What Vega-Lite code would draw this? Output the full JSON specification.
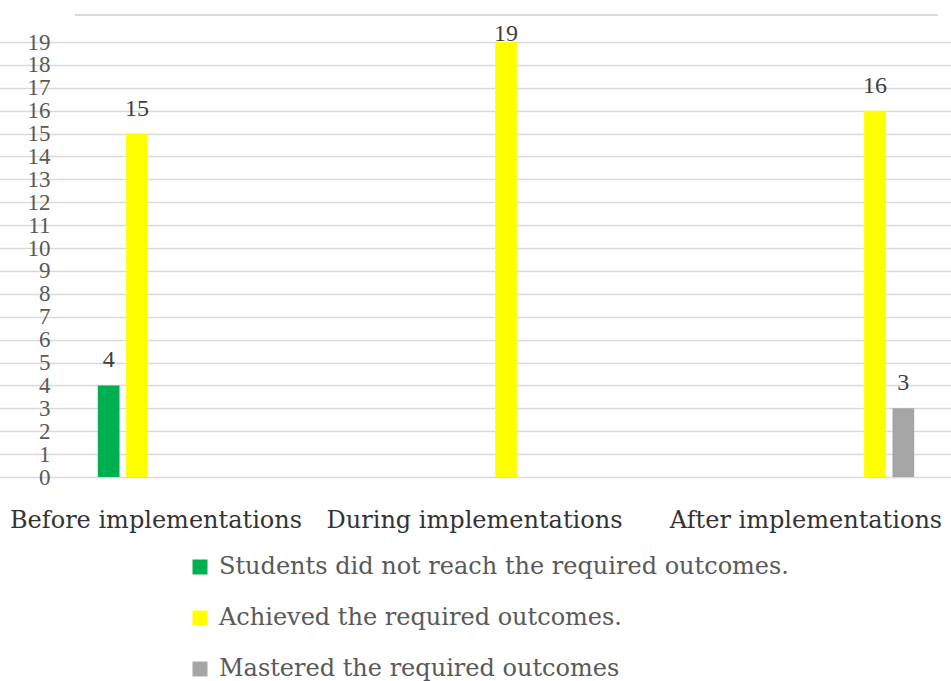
{
  "$schema": "https://vega.github.io/schema/vega-lite/v6.json",
  "width": 863,
  "height": 435,
  "autosize": {"type": "none"},
  "padding": {"left": 75, "top": 42, "right": 13, "bottom": 204},
  "background": "white",
  "config": {"view": {"stroke": null}, "font": "Liberation Serif"},
  "data": {
    "values": [
      {"stage": "Before implementations", "series": "Students did not reach the required outcomes.", "count": 4},
      {"stage": "Before implementations", "series": "Achieved the required outcomes.", "count": 15},
      {"stage": "Before implementations", "series": "Mastered the required outcomes", "count": 0},
      {"stage": "During implementations", "series": "Students did not reach the required outcomes.", "count": 0},
      {"stage": "During implementations", "series": "Achieved the required outcomes.", "count": 19},
      {"stage": "During implementations", "series": "Mastered the required outcomes", "count": 0},
      {"stage": "After implementations", "series": "Students did not reach the required outcomes.", "count": 0},
      {"stage": "After implementations", "series": "Achieved the required outcomes.", "count": 16},
      {"stage": "After implementations", "series": "Mastered the required outcomes", "count": 3}
    ]
  },
  "encoding": {
    "x": {
      "field": "stage",
      "type": "nominal",
      "sort": ["Before implementations", "During implementations", "After implementations"],
      "scale": {"range": [-122.5, 984.5], "paddingInner": 0, "paddingOuter": 0},
      "axis": {
        "title": null,
        "domain": false,
        "ticks": false,
        "grid": false,
        "labelAngle": 0,
        "labelPadding": 31,
        "labelFont": "DejaVu Serif",
        "labelFontSize": 24,
        "labelColor": "#333333",
        "labelLimit": 0,
        "labelOverlap": false,
        "labelOffset": {"expr": "datum.value === 'Before implementations' ? 19 : datum.value === 'During implementations' ? -31.5 : -69"}
      }
    },
    "xOffset": {
      "field": "series",
      "type": "nominal",
      "sort": ["Students did not reach the required outcomes.", "Achieved the required outcomes.", "Mastered the required outcomes"],
      "scale": {"range": [142, 227], "paddingInner": 0.234, "paddingOuter": 0.117}
    },
    "y": {
      "field": "count",
      "type": "quantitative",
      "scale": {"domain": [0, 19], "nice": false, "zero": true},
      "axis": {
        "title": null,
        "values": [0, 1, 2, 3, 4, 5, 6, 7, 8, 9, 10, 11, 12, 13, 14, 15, 16, 17, 18, 19],
        "grid": true,
        "gridColor": "#d9d9d9",
        "gridWidth": 1.5,
        "domain": false,
        "ticks": false,
        "labelPadding": 25,
        "labelFont": "Liberation Serif",
        "labelFontSize": 23,
        "labelColor": "#595959",
        "labelOverlap": false
      }
    }
  },
  "layer": [
    {
      "mark": {"type": "rule", "color": "#d9d9d9", "strokeWidth": 1.5},
      "encoding": {"y": {"datum": 20.18}, "x": null, "xOffset": null}
    },
    {
      "mark": {"type": "bar"},
      "encoding": {
        "color": {
          "field": "series",
          "type": "nominal",
          "scale": {
            "domain": ["Students did not reach the required outcomes.", "Achieved the required outcomes.", "Mastered the required outcomes"],
            "range": ["#00b050", "#ffff00", "#a5a5a5"]
          },
          "legend": {
            "orient": "none",
            "legendX": 113,
            "legendY": 513,
            "direction": "vertical",
            "title": null,
            "symbolType": "square",
            "symbolSize": 225,
            "symbolStrokeWidth": 0,
            "labelFont": "DejaVu Serif",
            "labelFontSize": 24,
            "labelColor": "#595959",
            "labelOffset": 7,
            "labelLimit": 0,
            "rowPadding": 27,
            "padding": 0
          }
        }
      }
    },
    {
      "transform": [{"filter": "datum.count > 0 && datum.count < 19"}],
      "mark": {"type": "text", "font": "Liberation Serif", "fontSize": 24, "color": "#404040", "baseline": "alphabetic", "dy": -18},
      "encoding": {"text": {"field": "count", "type": "quantitative"}}
    },
    {
      "transform": [{"filter": "datum.count >= 19"}],
      "mark": {"type": "text", "font": "Liberation Serif", "fontSize": 24, "color": "#404040", "baseline": "alphabetic", "dy": -1},
      "encoding": {"text": {"field": "count", "type": "quantitative"}}
    }
  ]
}
